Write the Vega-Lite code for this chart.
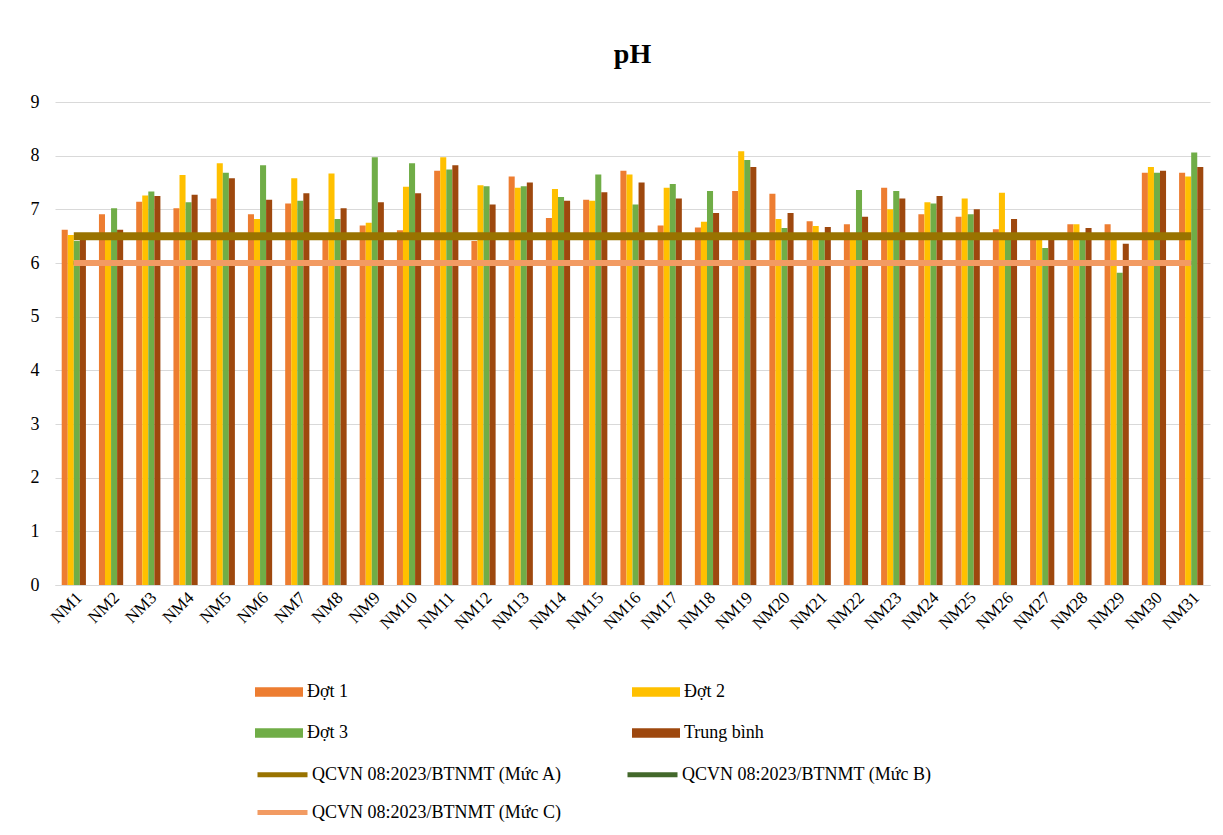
{
  "$schema": "https://vega.github.io/schema/vega-lite/v6.json",
  "autosize": {"type": "none"},
  "width": 1155,
  "height": 483,
  "padding": {"left": 55, "top": 102, "right": 13, "bottom": 250},
  "background": "white",
  "title": {"text": "pH", "font": "Liberation Serif", "fontSize": 28, "fontWeight": "bold", "color": "#000000", "offset": 24, "anchor": "middle"},
  "config": {
    "view": {"stroke": null},
    "axis": {"labelFont": "Liberation Serif", "labelFontSize": 16, "labelColor": "#000000", "titleFont": "Liberation Serif"},
    "legend": {"labelFont": "Liberation Serif", "labelFontSize": 18, "labelColor": "#000000", "padding": 0, "labelLimit": 500, "direction": "horizontal"}
  },
  "data": {"values": [
    {"NM": "NM1", "Đợt 1": 6.62, "Đợt 2": 6.52, "Đợt 3": 6.41, "Trung bình": 6.52, "QCVN 08:2023/BTNMT  (Mức A)": 6.5, "QCVN 08:2023/BTNMT  (Mức B)": 6.0, "QCVN 08:2023/BTNMT  (Mức C)": 6.0},
    {"NM": "NM2", "Đợt 1": 6.91, "Đợt 2": 6.45, "Đợt 3": 7.02, "Trung bình": 6.62, "QCVN 08:2023/BTNMT  (Mức A)": 6.5, "QCVN 08:2023/BTNMT  (Mức B)": 6.0, "QCVN 08:2023/BTNMT  (Mức C)": 6.0},
    {"NM": "NM3", "Đợt 1": 7.14, "Đợt 2": 7.26, "Đợt 3": 7.33, "Trung bình": 7.25, "QCVN 08:2023/BTNMT  (Mức A)": 6.5, "QCVN 08:2023/BTNMT  (Mức B)": 6.0, "QCVN 08:2023/BTNMT  (Mức C)": 6.0},
    {"NM": "NM4", "Đợt 1": 7.02, "Đợt 2": 7.64, "Đợt 3": 7.13, "Trung bình": 7.27, "QCVN 08:2023/BTNMT  (Mức A)": 6.5, "QCVN 08:2023/BTNMT  (Mức B)": 6.0, "QCVN 08:2023/BTNMT  (Mức C)": 6.0},
    {"NM": "NM5", "Đợt 1": 7.2, "Đợt 2": 7.86, "Đợt 3": 7.68, "Trung bình": 7.58, "QCVN 08:2023/BTNMT  (Mức A)": 6.5, "QCVN 08:2023/BTNMT  (Mức B)": 6.0, "QCVN 08:2023/BTNMT  (Mức C)": 6.0},
    {"NM": "NM6", "Đợt 1": 6.91, "Đợt 2": 6.82, "Đợt 3": 7.82, "Trung bình": 7.18, "QCVN 08:2023/BTNMT  (Mức A)": 6.5, "QCVN 08:2023/BTNMT  (Mức B)": 6.0, "QCVN 08:2023/BTNMT  (Mức C)": 6.0},
    {"NM": "NM7", "Đợt 1": 7.11, "Đợt 2": 7.58, "Đợt 3": 7.16, "Trung bình": 7.3, "QCVN 08:2023/BTNMT  (Mức A)": 6.5, "QCVN 08:2023/BTNMT  (Mức B)": 6.0, "QCVN 08:2023/BTNMT  (Mức C)": 6.0},
    {"NM": "NM8", "Đợt 1": 6.5, "Đợt 2": 7.67, "Đợt 3": 6.82, "Trung bình": 7.02, "QCVN 08:2023/BTNMT  (Mức A)": 6.5, "QCVN 08:2023/BTNMT  (Mức B)": 6.0, "QCVN 08:2023/BTNMT  (Mức C)": 6.0},
    {"NM": "NM9", "Đợt 1": 6.7, "Đợt 2": 6.75, "Đợt 3": 7.97, "Trung bình": 7.13, "QCVN 08:2023/BTNMT  (Mức A)": 6.5, "QCVN 08:2023/BTNMT  (Mức B)": 6.0, "QCVN 08:2023/BTNMT  (Mức C)": 6.0},
    {"NM": "NM10", "Đợt 1": 6.61, "Đợt 2": 7.42, "Đợt 3": 7.86, "Trung bình": 7.3, "QCVN 08:2023/BTNMT  (Mức A)": 6.5, "QCVN 08:2023/BTNMT  (Mức B)": 6.0, "QCVN 08:2023/BTNMT  (Mức C)": 6.0},
    {"NM": "NM11", "Đợt 1": 7.72, "Đợt 2": 7.97, "Đợt 3": 7.74, "Trung bình": 7.82, "QCVN 08:2023/BTNMT  (Mức A)": 6.5, "QCVN 08:2023/BTNMT  (Mức B)": 6.0, "QCVN 08:2023/BTNMT  (Mức C)": 6.0},
    {"NM": "NM12", "Đợt 1": 6.41, "Đợt 2": 7.45, "Đợt 3": 7.43, "Trung bình": 7.09, "QCVN 08:2023/BTNMT  (Mức A)": 6.5, "QCVN 08:2023/BTNMT  (Mức B)": 6.0, "QCVN 08:2023/BTNMT  (Mức C)": 6.0},
    {"NM": "NM13", "Đợt 1": 7.61, "Đợt 2": 7.4, "Đợt 3": 7.43, "Trung bình": 7.5, "QCVN 08:2023/BTNMT  (Mức A)": 6.5, "QCVN 08:2023/BTNMT  (Mức B)": 6.0, "QCVN 08:2023/BTNMT  (Mức C)": 6.0},
    {"NM": "NM14", "Đợt 1": 6.84, "Đợt 2": 7.38, "Đợt 3": 7.23, "Trung bình": 7.16, "QCVN 08:2023/BTNMT  (Mức A)": 6.5, "QCVN 08:2023/BTNMT  (Mức B)": 6.0, "QCVN 08:2023/BTNMT  (Mức C)": 6.0},
    {"NM": "NM15", "Đợt 1": 7.18, "Đợt 2": 7.16, "Đợt 3": 7.65, "Trung bình": 7.32, "QCVN 08:2023/BTNMT  (Mức A)": 6.5, "QCVN 08:2023/BTNMT  (Mức B)": 6.0, "QCVN 08:2023/BTNMT  (Mức C)": 6.0},
    {"NM": "NM16", "Đợt 1": 7.72, "Đợt 2": 7.65, "Đợt 3": 7.09, "Trung bình": 7.5, "QCVN 08:2023/BTNMT  (Mức A)": 6.5, "QCVN 08:2023/BTNMT  (Mức B)": 6.0, "QCVN 08:2023/BTNMT  (Mức C)": 6.0},
    {"NM": "NM17", "Đợt 1": 6.7, "Đợt 2": 7.4, "Đợt 3": 7.47, "Trung bình": 7.2, "QCVN 08:2023/BTNMT  (Mức A)": 6.5, "QCVN 08:2023/BTNMT  (Mức B)": 6.0, "QCVN 08:2023/BTNMT  (Mức C)": 6.0},
    {"NM": "NM18", "Đợt 1": 6.66, "Đợt 2": 6.77, "Đợt 3": 7.34, "Trung bình": 6.93, "QCVN 08:2023/BTNMT  (Mức A)": 6.5, "QCVN 08:2023/BTNMT  (Mức B)": 6.0, "QCVN 08:2023/BTNMT  (Mức C)": 6.0},
    {"NM": "NM19", "Đợt 1": 7.34, "Đợt 2": 8.08, "Đợt 3": 7.92, "Trung bình": 7.79, "QCVN 08:2023/BTNMT  (Mức A)": 6.5, "QCVN 08:2023/BTNMT  (Mức B)": 6.0, "QCVN 08:2023/BTNMT  (Mức C)": 6.0},
    {"NM": "NM20", "Đợt 1": 7.29, "Đợt 2": 6.82, "Đợt 3": 6.65, "Trung bình": 6.93, "QCVN 08:2023/BTNMT  (Mức A)": 6.5, "QCVN 08:2023/BTNMT  (Mức B)": 6.0, "QCVN 08:2023/BTNMT  (Mức C)": 6.0},
    {"NM": "NM21", "Đợt 1": 6.78, "Đợt 2": 6.69, "Đợt 3": 6.55, "Trung bình": 6.67, "QCVN 08:2023/BTNMT  (Mức A)": 6.5, "QCVN 08:2023/BTNMT  (Mức B)": 6.0, "QCVN 08:2023/BTNMT  (Mức C)": 6.0},
    {"NM": "NM22", "Đợt 1": 6.72, "Đợt 2": 6.5, "Đợt 3": 7.36, "Trung bình": 6.86, "QCVN 08:2023/BTNMT  (Mức A)": 6.5, "QCVN 08:2023/BTNMT  (Mức B)": 6.0, "QCVN 08:2023/BTNMT  (Mức C)": 6.0},
    {"NM": "NM23", "Đợt 1": 7.4, "Đợt 2": 7.0, "Đợt 3": 7.34, "Trung bình": 7.2, "QCVN 08:2023/BTNMT  (Mức A)": 6.5, "QCVN 08:2023/BTNMT  (Mức B)": 6.0, "QCVN 08:2023/BTNMT  (Mức C)": 6.0},
    {"NM": "NM24", "Đợt 1": 6.91, "Đợt 2": 7.13, "Đợt 3": 7.11, "Trung bình": 7.25, "QCVN 08:2023/BTNMT  (Mức A)": 6.5, "QCVN 08:2023/BTNMT  (Mức B)": 6.0, "QCVN 08:2023/BTNMT  (Mức C)": 6.0},
    {"NM": "NM25", "Đợt 1": 6.86, "Đợt 2": 7.2, "Đợt 3": 6.91, "Trung bình": 7.0, "QCVN 08:2023/BTNMT  (Mức A)": 6.5, "QCVN 08:2023/BTNMT  (Mức B)": 6.0, "QCVN 08:2023/BTNMT  (Mức C)": 6.0},
    {"NM": "NM26", "Đợt 1": 6.63, "Đợt 2": 7.31, "Đợt 3": 6.5, "Trung bình": 6.82, "QCVN 08:2023/BTNMT  (Mức A)": 6.5, "QCVN 08:2023/BTNMT  (Mức B)": 6.0, "QCVN 08:2023/BTNMT  (Mức C)": 6.0},
    {"NM": "NM27", "Đợt 1": 6.5, "Đợt 2": 6.5, "Đợt 3": 6.28, "Trung bình": 6.46, "QCVN 08:2023/BTNMT  (Mức A)": 6.5, "QCVN 08:2023/BTNMT  (Mức B)": 6.0, "QCVN 08:2023/BTNMT  (Mức C)": 6.0},
    {"NM": "NM28", "Đợt 1": 6.72, "Đợt 2": 6.72, "Đợt 3": 6.52, "Trung bình": 6.65, "QCVN 08:2023/BTNMT  (Mức A)": 6.5, "QCVN 08:2023/BTNMT  (Mức B)": 6.0, "QCVN 08:2023/BTNMT  (Mức C)": 6.0},
    {"NM": "NM29", "Đợt 1": 6.72, "Đợt 2": 6.5, "Đợt 3": 5.82, "Trung bình": 6.36, "QCVN 08:2023/BTNMT  (Mức A)": 6.5, "QCVN 08:2023/BTNMT  (Mức B)": 6.0, "QCVN 08:2023/BTNMT  (Mức C)": 6.0},
    {"NM": "NM30", "Đợt 1": 7.68, "Đợt 2": 7.79, "Đợt 3": 7.68, "Trung bình": 7.72, "QCVN 08:2023/BTNMT  (Mức A)": 6.5, "QCVN 08:2023/BTNMT  (Mức B)": 6.0, "QCVN 08:2023/BTNMT  (Mức C)": 6.0},
    {"NM": "NM31", "Đợt 1": 7.68, "Đợt 2": 7.61, "Đợt 3": 8.06, "Trung bình": 7.79, "QCVN 08:2023/BTNMT  (Mức A)": 6.5, "QCVN 08:2023/BTNMT  (Mức B)": 6.0, "QCVN 08:2023/BTNMT  (Mức C)": 6.0}
  ]},
  "encoding": {
    "x": {"field": "NM", "type": "nominal", "title": null,
      "scale": {"domain": ["NM1","NM2","NM3","NM4","NM5","NM6","NM7","NM8","NM9","NM10","NM11","NM12","NM13","NM14","NM15","NM16","NM17","NM18","NM19","NM20","NM21","NM22","NM23","NM24","NM25","NM26","NM27","NM28","NM29","NM30","NM31"], "paddingInner": 0.35, "paddingOuter": 0.18},
      "axis": {"labelAngle": -45, "ticks": false, "domainColor": "#d9d9d9", "labelPadding": 4, "labelFontSize": 17}},
    "y": {"field": "value", "type": "quantitative", "title": null,
      "scale": {"domain": [0, 9]},
      "axis": {"values": [0,1,2,3,4,5,6,7,8,9], "domain": false, "ticks": false, "gridColor": "#d9d9d9", "labelPadding": 16, "labelFontSize": 18}}
  },
  "layer": [
    {
      "transform": [{"fold": ["Đợt 1", "Đợt 2", "Đợt 3", "Trung bình"], "as": ["series", "value"]}],
      "mark": {"type": "bar"},
      "encoding": {
        "xOffset": {"field": "series", "type": "nominal", "scale": {"domain": ["Đợt 1", "Đợt 2", "Đợt 3", "Trung bình"], "paddingInner": 0, "paddingOuter": 0}},
        "color": {"field": "series", "type": "nominal",
          "scale": {"domain": ["Đợt 1", "Đợt 2", "Đợt 3", "Trung bình"], "range": ["#ED7D31", "#FFC000", "#70AD47", "#9E480E"]},
          "legend": {"title": null, "orient": "none", "legendX": 200, "legendY": 566, "columns": 2, "columnPadding": 283, "rowPadding": 8,
            "symbolType": "M-1,-0.2H1V0.2H-1Z", "symbolSize": 2304, "symbolStrokeWidth": 0, "labelOffset": 4}}
      }
    },
    {
      "transform": [{"fold": ["QCVN 08:2023/BTNMT  (Mức A)"], "as": ["series", "value"]}],
      "mark": {"type": "line", "strokeWidth": 8},
      "encoding": {
        "stroke": {"field": "series", "type": "nominal",
          "scale": {"domain": ["QCVN 08:2023/BTNMT  (Mức A)", "QCVN 08:2023/BTNMT  (Mức B)", "QCVN 08:2023/BTNMT  (Mức C)"], "range": ["#997300", "#43682B", "#F29B63"]},
          "legend": {"title": null, "orient": "none", "legendX": 200, "legendY": 645, "columns": 2, "columnPadding": 50, "rowPadding": -10,
            "symbolType": "stroke", "symbolSize": 2500, "symbolStrokeWidth": 5, "labelOffset": 2}}
      }
    },
    {
      "transform": [{"fold": ["QCVN 08:2023/BTNMT  (Mức B)"], "as": ["series", "value"]}],
      "mark": {"type": "line", "strokeWidth": 4},
      "encoding": {
        "stroke": {"field": "series", "type": "nominal"}
      }
    },
    {
      "transform": [{"fold": ["QCVN 08:2023/BTNMT  (Mức C)"], "as": ["series", "value"]}],
      "mark": {"type": "line", "strokeWidth": 6},
      "encoding": {
        "stroke": {"field": "series", "type": "nominal"}
      }
    }
  ]
}
